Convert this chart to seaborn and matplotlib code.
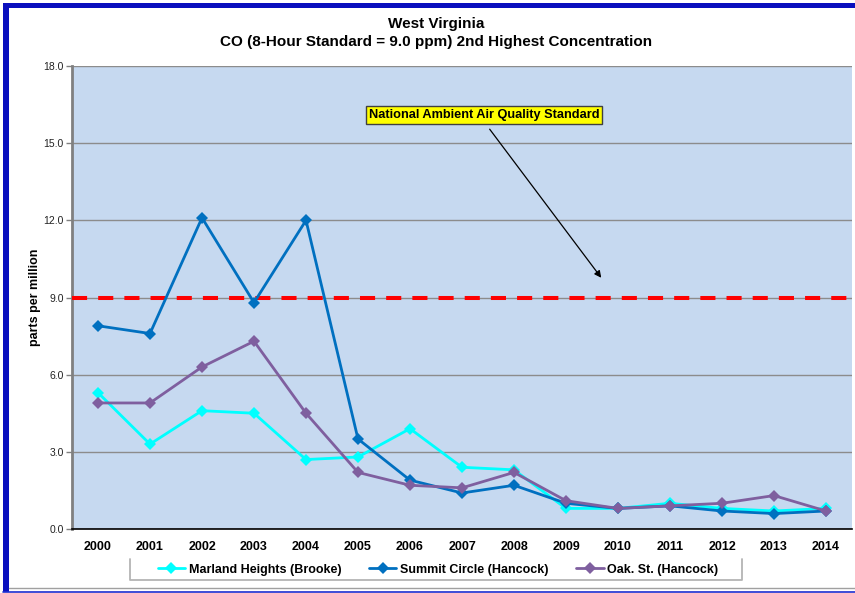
import numpy as np
import pandas as pd
import matplotlib
matplotlib.use("Agg")
import matplotlib.pyplot as plt
import seaborn as sns
from matplotlib.patches import Rectangle
from matplotlib.lines import Line2D

# ── Données ─────────────────────────────────────────────────────────────
years = ["2000", "2001", "2002", "2003", "2004", "2005", "2006", "2007",
         "2008", "2009", "2010", "2011", "2012", "2013", "2014"]
marland = [5.3, 3.3, 4.6, 4.5, 2.7, 2.8, 3.9, 2.4, 2.3, 0.8, 0.8, 1.0, 0.8, 0.7, 0.8]
summit = [7.9, 7.6, 12.1, 8.8, 12.0, 3.5, 1.9, 1.4, 1.7, 1.0, 0.8, 0.9, 0.7, 0.6, 0.7]
oak = [4.9, 4.9, 6.3, 7.3, 4.5, 2.2, 1.7, 1.6, 2.2, 1.1, 0.8, 0.9, 1.0, 1.3, 0.7]
series_names = ["Marland Heights (Brooke)", "Summit Circle (Hancock)", "Oak. St. (Hancock)"]
series_colors = ["#00FFFF", "#0070C0", "#7F5F9F"]
naaqs = 9.0
yticks = [0.0, 3.0, 6.0, 9.0, 12.0, 15.0, 18.0]

W, H = 855, 593

def fx(px):
    return px / W

def fy(py):
    return 1 - py / H

def main():
    sns.set_theme(style="white")
    plt.rcParams["font.family"] = ["Liberation Sans", "DejaVu Sans"]
    plt.rcParams["text.color"] = "black"

    fig = plt.figure(figsize=(8.55, 5.93), dpi=100)
    ax = fig.add_axes([fx(72), fy(529), 780 / W, 463 / H])
    ax.set_facecolor("#C6D9F0")

    # cadre bleu autour de la figure
    fig.patches.append(Rectangle((fx(3), fy(8)), 1.0, 5 / H, transform=fig.transFigure,
                                 facecolor="#0A0FBE", edgecolor="none", zorder=0))
    fig.patches.append(Rectangle((fx(3), fy(592)), 6 / W, 589 / H, transform=fig.transFigure,
                                 facecolor="#0A0FBE", edgecolor="none", zorder=0))
    fig.lines.append(Line2D([fx(3), 1], [fy(591.5)] * 2, transform=fig.transFigure,
                            color="#1E2ED0", lw=1.2))
    fig.lines.append(Line2D([fx(9), 1], [fy(588)] * 2, transform=fig.transFigure,
                            color="#A0A0A0", lw=1.0))

    # ligne de la norme
    ax.axhline(naaqs, color="#FF0000", lw=2.9, dashes=(3.75, 2.75), zorder=3)

    x = np.arange(len(years))
    df = pd.DataFrame({"x": np.tile(x, 3),
                       "value": marland + summit + oak,
                       "site": np.repeat(series_names, len(years))})
    sns.lineplot(data=df, x="x", y="value", hue="site", palette=series_colors,
                 hue_order=series_names, marker="D", markersize=6.5, markeredgewidth=0,
                 lw=2, ax=ax, legend=False, zorder=4)

    ax.set_xlim(-0.5, len(years) - 0.5)
    ax.set_ylim(0, 18)
    ax.set_xticks(x)
    ax.set_xticklabels(years, fontsize=9, fontweight="bold", color="black")
    ax.set_yticks(yticks)
    ax.set_yticklabels([f"{v:.1f}" for v in yticks], fontsize=7.5, color="#222222")
    ax.tick_params(axis="x", length=0, pad=9)
    ax.tick_params(axis="y", length=4, width=1, color="#808080", direction="out", pad=2, left=True)
    ax.grid(axis="y", color="#8C8C8C", lw=1)
    ax.set_axisbelow(True)
    for s in ["top", "right"]:
        ax.spines[s].set_visible(False)
    ax.spines["left"].set_color("#808080")
    ax.spines["left"].set_linewidth(2)
    ax.spines["bottom"].set_color("black")
    ax.spines["bottom"].set_linewidth(1.2)
    ax.set_xlabel("")
    ax.set_ylabel("parts per million", fontsize=9, fontweight="bold", color="black")
    ax.yaxis.set_label_coords((41 - 72) / 780, 0.5)

    # titre
    fig.text(fx(436.5), fy(24), "West Virginia", ha="center", va="center",
             fontsize=11, fontweight="bold", color="black")
    fig.text(fx(436.5), fy(42), "CO (8-Hour Standard = 9.0 ppm) 2nd Highest Concentration",
             ha="center", va="center", fontsize=11, fontweight="bold", color="black")

    # annotation
    ax.annotate("", xy=(9.71, 9.68), xytext=(7.5, 15.63),
                arrowprops=dict(arrowstyle="-|>", color="black", lw=0.9, mutation_scale=10))
    ax.text(7.42, 16.1, "National Ambient Air Quality Standard", ha="center", va="center",
            fontsize=9.2, fontweight="bold", color="black",
            bbox=dict(boxstyle="square,pad=0.22", facecolor="#FFFF00", edgecolor="#404040", lw=1))

    # légende (cadre dessiné à la main : gauche, bas, droite)
    handles = [Line2D([0], [0], color=c, lw=2, marker="D", markersize=6, markeredgewidth=0)
               for c in series_colors]
    leg = fig.legend(handles, series_names, loc="center", bbox_to_anchor=(fx(438), fy(569.5)), ncol=3,
                     frameon=False, prop={"weight": "bold", "size": 9},
                     handlelength=2.2, handletextpad=0.3, columnspacing=2.2)
    for t in leg.get_texts():
        t.set_color("black")
    box_x = [fx(130), fx(130), fx(742), fx(742)]
    box_y = [fy(559), fy(580), fy(580), fy(559)]
    fig.lines.append(Line2D(box_x, box_y, transform=fig.transFigure, color="#B4B4B4", lw=1.3))

    fig.savefig("out.png", dpi=100)

if __name__ == "__main__":
    main()
